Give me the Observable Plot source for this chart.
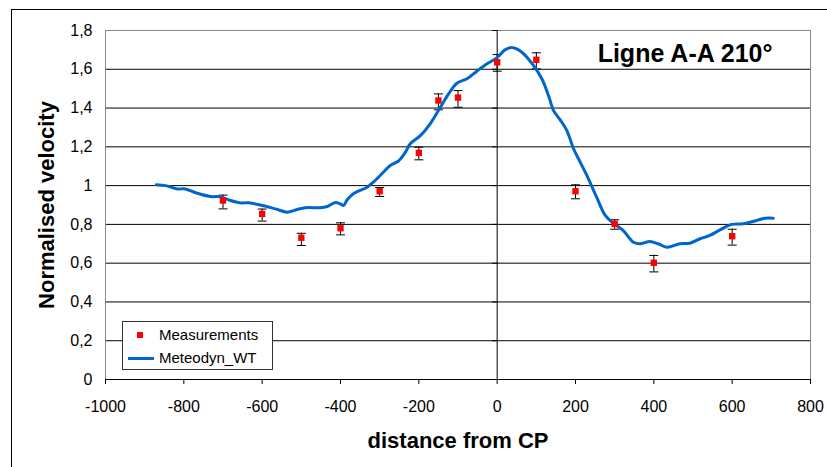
<!DOCTYPE html>
<html>
<head>
<meta charset="utf-8">
<script src="https://cdn.jsdelivr.net/npm/d3@7"></script>
<script src="https://cdn.jsdelivr.net/npm/@observablehq/plot@0.6"></script>
<style>
  html, body { margin: 0; padding: 0; background: #fff; }
  #chart svg { display: block; }
</style>
</head>
<body>
<div id="chart"></div>
<script>
// ---- data ----
const titleText = "Ligne A-A 210°";
const xLabel = "distance from CP";
const yLabel = "Normalised velocity";
const seriesNames = ["Measurements", "Meteodyn_WT"];

const xTicks = [-1000, -800, -600, -400, -200, 0, 200, 400, 600, 800];
const yTicks = [0, 0.2, 0.4, 0.6, 0.8, 1, 1.2, 1.4, 1.6, 1.8];

const measX  = [-700, -600, -500, -400, -300, -200, -150, -100, 0, 100, 200, 300, 400, 600];
const measY  = [0.923, 0.854, 0.731, 0.780, 0.971, 1.169, 1.439, 1.454, 1.636, 1.649, 0.971, 0.803, 0.602, 0.739];
const measLo = [0.880, 0.817, 0.691, 0.746, 0.944, 1.133, 1.391, 1.404, 1.590, 1.602, 0.932, 0.775, 0.555, 0.693];
const measHi = [0.951, 0.879, 0.754, 0.808, 0.990, 1.198, 1.473, 1.490, 1.676, 1.685, 1.004, 0.824, 0.640, 0.775];

const modelX = [-870, -847, -817, -796, -770, -732, -707, -681, -656, -634, -596, -566, -536, -511, -490, -452, -434, -413, -400, -392, -383, -367, -332, -316, -290, -273, -252, -235, -222, -196, -171, -145, -124, -103, -77, -52, -26, 0, 20, 37, 63, 93, 114, 131, 144, 161, 178, 195, 212, 233, 254, 276, 297, 322, 348, 365, 390, 411, 433, 467, 492, 518, 543, 569, 599, 628, 662, 684, 705];
const modelY = [1.005, 1.0, 0.983, 0.983, 0.963, 0.944, 0.942, 0.923, 0.911, 0.911, 0.896, 0.880, 0.863, 0.877, 0.886, 0.886, 0.892, 0.913, 0.905, 0.898, 0.927, 0.958, 0.992, 1.018, 1.07, 1.104, 1.127, 1.17, 1.216, 1.258, 1.319, 1.404, 1.473, 1.528, 1.551, 1.59, 1.628, 1.66, 1.700, 1.712, 1.688, 1.619, 1.551, 1.465, 1.387, 1.339, 1.284, 1.19, 1.121, 1.035, 0.94, 0.846, 0.805, 0.768, 0.708, 0.70, 0.712, 0.70, 0.682, 0.70, 0.703, 0.726, 0.743, 0.772, 0.80, 0.803, 0.82, 0.832, 0.832];

// ---- tables ----
const meas = measX.map((x, i) => ({x, y: measY[i], lo: measLo[i], hi: measHi[i]}));
const model = modelX.map((x, i) => ({x, y: modelY[i]}));

const lineColor = "#0066CC";
const markColor = "#FF0000";
const font = "'Liberation Sans', Arial, sans-serif";

// horizontal bar symbol for error-bar caps and small axis ticks
const hbar = {
  draw(context, size) {
    const r = Math.sqrt(size / Math.PI);
    context.moveTo(-r, 0);
    context.lineTo(r, 0);
  }
};

const plot = Plot.plot({
  width: 827,
  height: 467,
  marginLeft: 105,
  marginRight: 17,
  marginTop: 30,
  marginBottom: 88,
  style: {fontFamily: font, fontSize: "16px", color: "#000", background: "#fff"},
  x: {domain: [-1000, 800], ticks: xTicks, tickFormat: d => String(d), tickSize: 5, tickPadding: 16, label: null},
  y: {domain: [0, 1.8], ticks: yTicks, tickFormat: d => String(+d.toFixed(1)).replace(".", ","), tickSize: 0, tickPadding: 13, label: null},
  marks: [
    Plot.ruleY(yTicks.filter(d => d > 0 && d < 1.8), {stroke: "#000", strokeWidth: 1}),
    Plot.ruleY([1.8], {stroke: "#888"}),
    Plot.ruleX([-1000, 800], {stroke: "#888"}),
    Plot.ruleX([0], {y1: 0, y2: 1.8, stroke: "#000"}),
    Plot.dot(yTicks, {x: () => 0, y: d => d, symbol: hbar, r: 2.5, stroke: "#000", strokeWidth: 1, dx: -2.5}),
    Plot.ruleY([0], {stroke: "#000"}),
    Plot.ruleX(meas, {x: "x", y1: "lo", y2: "hi", stroke: "#000", strokeWidth: 1}),
    Plot.dot(meas, {x: "x", y: "lo", symbol: hbar, r: 4.5, stroke: "#000", strokeWidth: 1}),
    Plot.dot(meas, {x: "x", y: "hi", symbol: hbar, r: 4.5, stroke: "#000", strokeWidth: 1}),
    Plot.line(model, {x: "x", y: "y", stroke: lineColor, strokeWidth: 3, curve: "catmull-rom"}),
    Plot.dot(meas, {x: "x", y: "y", symbol: "square", r: 3.6, fill: markColor, stroke: "none"}),
    Plot.text([titleText], {frameAnchor: "top-right", textAnchor: "end", lineAnchor: "middle", dx: -38, dy: 23, fontSize: 25, fontWeight: "bold", fill: "#000"}),
    Plot.text([yLabel], {frameAnchor: "left", rotate: -90, textAnchor: "middle", lineAnchor: "middle", dx: -59, fontSize: 22, fontWeight: "bold", fill: "#000"}),
    Plot.text([xLabel], {frameAnchor: "bottom", textAnchor: "middle", lineAnchor: "middle", dy: 61, fontSize: 22, fontWeight: "bold", fill: "#000"})
  ]
});

// outer chart-area border
const svg = d3.select(plot);
svg.insert("rect", ":first-child")
  .attr("x", 11.5).attr("y", 9.5).attr("width", 900).attr("height", 600)
  .attr("fill", "none").attr("stroke", "#000").attr("stroke-width", 1);

// legend
const lg = svg.append("g").attr("font-family", font).attr("font-size", 15).attr("text-anchor", "start");
lg.append("rect").attr("x", 122.5).attr("y", 321.5).attr("width", 150).attr("height", 48)
  .attr("fill", "#fff").attr("stroke", "#333");
lg.append("rect").attr("x", 137).attr("y", 332).attr("width", 6).attr("height", 6).attr("fill", markColor);
lg.append("line").attr("x1", 128).attr("x2", 154).attr("y1", 358.5).attr("y2", 358.5)
  .attr("stroke", lineColor).attr("stroke-width", 3);
lg.append("text").attr("x", 159).attr("y", 335).attr("dy", "0.35em").attr("fill", "#000").attr("text-anchor", "start").text(seriesNames[0]);
lg.append("text").attr("x", 159).attr("y", 358).attr("dy", "0.35em").attr("fill", "#000").attr("text-anchor", "start").text(seriesNames[1]);

document.getElementById("chart").appendChild(plot);
</script>
</body>
</html>
